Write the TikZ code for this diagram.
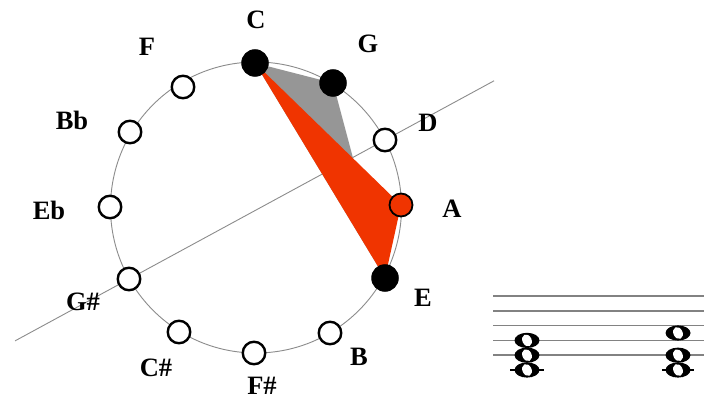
\documentclass[tikz,border=0pt]{standalone}
\usepackage{fontspec}
\setmainfont{Liberation Serif}
\usetikzlibrary{calc}
\definecolor{trigray}{RGB}{150,150,150}
\definecolor{hot}{RGB}{240,52,0}
\definecolor{ringgray}{RGB}{140,140,140}
\definecolor{staffgray}{RGB}{130,130,130}
\begin{document}
\begin{tikzpicture}[x=1pt,y=-1pt,
  pc/.style={circle,draw=black,line width=2.4pt,fill=white,minimum size=22.5pt,inner sep=0pt},
  pcon/.style={circle,draw=black,line width=1pt,fill=black,minimum size=26.5pt,inner sep=0pt},
  pcred/.style={circle,draw=black,line width=1.8pt,fill=hot,minimum size=23pt,inner sep=0pt},
  lab/.style={font=\fontsize{26.5}{26.5}\selectfont\bfseries,inner sep=0pt,text depth=0pt},
  ring/.style={draw=ringgray,line width=0.9pt},
  staffline/.style={draw=staffgray,line width=1.6pt},
  ledger/.style={draw=black,line width=1.5pt},
  wholenote/.pic={
    \fill[black] (0,0) ellipse[x radius=12.5,y radius=7.6];
    \fill[white,rotate=25] (0,0) ellipse[x radius=4.6,y radius=6.2];
  }
]
\useasboundingbox[fill=white] (0,0) rectangle (704,406);
% positions on the circle
\coordinate (pC)  at (255,63);
\coordinate (pG)  at (333,83);
\coordinate (pD)  at (385,140);
\coordinate (pA)  at (401,205);
\coordinate (pE)  at (385,278);
\coordinate (pB)  at (330,333);
\coordinate (pFs) at (254,353);
\coordinate (pCs) at (179,332);
\coordinate (pGs) at (129,279);
\coordinate (pEb) at (110,207);
\coordinate (pBb) at (130,132);
\coordinate (pF)  at (183,87);
\coordinate (ctr) at (256,207.5);
% axis line
\coordinate (axL) at ($(pGs)!-0.445!(pD)$);
\coordinate (axR) at ($(pGs)!1.426!(pD)$);
\draw[ring] (axL) -- (axR);
% circle
\draw[ring] (ctr) circle[radius=145.5];
% triangles
\fill[trigray] (pC) -- (pG) -- (pE) -- cycle;
\fill[hot] (pC) -- (pA) -- (pE) -- cycle;
% pitch-class nodes
\node[pcon]  (C)  at (pC)  {};
\node[pcon]  (G)  at (pG)  {};
\node[pc]    (D)  at (pD)  {};
\node[pcred] (A)  at (pA)  {};
\node[pcon]  (E)  at (pE)  {};
\node[pc]    (B)  at (pB)  {};
\node[pc]    (Fs) at (pFs) {};
\node[pc]    (Cs) at (pCs) {};
\node[pc]    (Gs) at (pGs) {};
\node[pc]    (Eb) at (pEb) {};
\node[pc]    (Bb) at (pBb) {};
\node[pc]    (F)  at (pF)  {};
% labels
\node[lab] (lC)  at (256,20)  {C};
\node[lab] (lG)  at (368,44)  {G};
\node[lab] (lD)  at (428,123) {D};
\node[lab] (lA)  at (452,209) {A};
\node[lab] (lE)  at (423,298) {E};
\node[lab] (lB)  at (359,357) {B};
\node[lab] (lFs) at (262,386) {F\#};
\node[lab] (lCs) at (156,368) {C\#};
\node[lab] (lGs) at (83,302)  {G\#};
\node[lab] (lEb) at (49,210)  {Eb};
\node[lab] (lBb) at (72,120)  {Bb};
\node[lab] (lF)  at (147,47)  {F};
% staff
\foreach \yy in {296,310.8,325.6,340.4,355.2}
  \draw[staffline] (493,\yy) -- (704,\yy);
% chord 1: C E G
\draw[ledger] (510,370) -- (544,370);
\pic at (527,340.4) {wholenote};
\pic at (527,355.2) {wholenote};
\pic at (527,370) {wholenote};
% chord 2: C E A
\draw[ledger] (662,370) -- (694,370);
\pic at (678,333) {wholenote};
\pic at (678,355.2) {wholenote};
\pic at (678,370) {wholenote};
\end{tikzpicture}
\end{document}
